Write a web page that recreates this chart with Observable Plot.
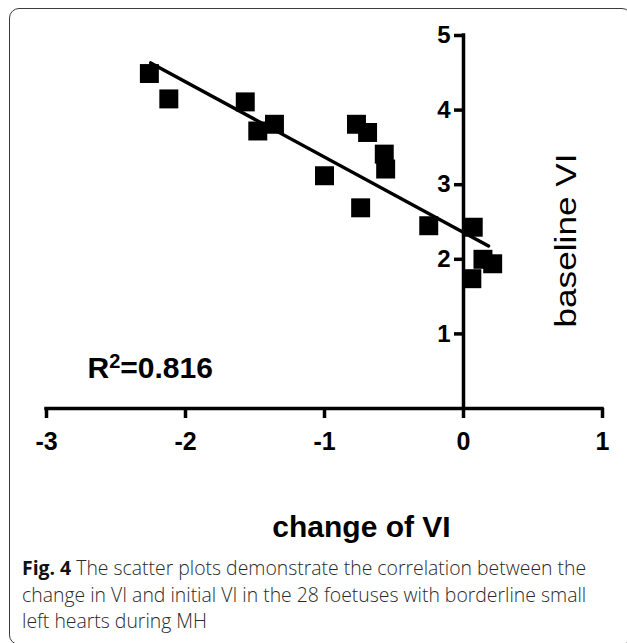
<!DOCTYPE html>
<html>
<head>
<meta charset="utf-8">
<script src="https://cdn.jsdelivr.net/npm/d3@7"></script>
<script src="https://cdn.jsdelivr.net/npm/@observablehq/plot@0.6"></script>
<style>
  html, body { margin: 0; padding: 0; background: #fff; overflow: hidden; width: 627px; height: 643px; }
  #wrap { position: relative; width: 627px; height: 643px; }
  #chart { position: absolute; left: 0; top: 0; }
  #frame { position: absolute; left: 9px; top: 8px; width: 623px; height: 637px; box-sizing: border-box;
           border: 1.5px solid #3a3a3a; border-radius: 10px; pointer-events: none; }
  #caption { position: absolute; left: 22px; top: 555px; font-family: "Open Sans", sans-serif; font-size: 19.4px;
             font-weight: 300; line-height: 26.5px; color: #2a2a2a; white-space: nowrap; }
  #caption b { color: #111; font-weight: 700; }
</style>
</head>
<body>
<div id="wrap">
  <div id="chart"></div>
  <div id="frame"></div>
  <div id="caption"><b>Fig. 4</b> The scatter plots demonstrate the correlation between the<br>change in VI and initial VI in the 28 foetuses with borderline small<br>left hearts during MH</div>
</div>
<script>
// Data
const changeVI   = [-2.26, -2.12, -1.57, -1.48, -1.36, -0.77, -0.69, -0.57, -0.56, -1.00, -0.74, -0.25, 0.07, 0.14, 0.21, 0.06];
const baselineVI = [ 4.49,  4.15,  4.11,  3.72,  3.81,  3.81,  3.70,  3.41,  3.21,  3.12,  2.69,  2.45, 2.43, 2.00, 1.94, 1.74];
const fitSlope = -1.01;
const fitIntercept = 2.36;
const fitXRange = [-2.25, 0.18];
const xTicks = [-3, -2, -1, 0, 1];
const yTicks = [1, 2, 3, 4, 5];
const rSquaredLabel = "R2=0.816";
const xLabel = "change of VI";
const yLabel = "baseline VI";

const points = changeVI.map((x, i) => ({x, y: baselineVI[i]}));
const fit = fitXRange.map(x => ({x, y: fitIntercept + fitSlope * x}));

const chart = Plot.plot({
  width: 627,
  height: 550,
  marginLeft: 46,
  marginRight: 25,
  marginTop: 35,
  marginBottom: 142,
  x: {domain: [-3, 1], axis: null},
  y: {domain: [0, 5], axis: null},
  style: {fontFamily: "'Liberation Sans', Arial, sans-serif", background: "transparent", overflow: "visible", color: "#000"},
  marks: [
    // axes
    Plot.ruleY([0], {x1: -3, x2: 1, stroke: "#000", strokeWidth: 3.5, strokeLinecap: "square"}),
    Plot.ruleX([0], {y1: 0, y2: 5, stroke: "#000", strokeWidth: 3.5, strokeLinecap: "square"}),
    Plot.ruleX(xTicks, {x: d => d, y1: 0, y2: 0, insetBottom: -10, stroke: "#000", strokeWidth: 3.5}),
    Plot.ruleY(yTicks, {y: d => d, x1: 0, x2: 0, insetLeft: -9, stroke: "#000", strokeWidth: 3.5}),
    Plot.text(xTicks, {x: d => d, y: 0, text: d => String(d), dy: 24, lineAnchor: "top", fontSize: 25, fontWeight: "bold", fill: "#000"}),
    Plot.text(yTicks, {y: d => d, x: 0, text: d => String(d), dx: -13, textAnchor: "end", fontSize: 24, fontWeight: "bold", fill: "#000"}),
    // data
    Plot.dot(points, {x: "x", y: "y", symbol: "square", r: 10.7, fill: "#000", stroke: "none"}),
    Plot.line(fit, {x: "x", y: "y", stroke: "#000", strokeWidth: 3.5}),
    // annotations
    Plot.text([rSquaredLabel], {frameAnchor: "bottom-left", dx: 41, dy: -31, textAnchor: "start", lineAnchor: "bottom", fontSize: 30, fontWeight: "bold", fill: "#000"}),
    Plot.text([xLabel], {frameAnchor: "bottom", dx: 37, dy: 128, lineAnchor: "bottom", fontSize: 30, fontWeight: "bold", fill: "#000"}),
    Plot.text([yLabel], {frameAnchor: "right", rotate: -90, dx: -27, dy: 105.5, textAnchor: "start", lineAnchor: "bottom", fontSize: 30, fill: "#000"})
  ]
});
document.getElementById("chart").appendChild(chart);

// superscript for R²
d3.select(chart).selectAll("text").filter(function() { return this.textContent === rSquaredLabel; })
  .each(function() {
    const t = d3.select(this);
    t.text(null);
    t.append("tspan").text("R");
    t.append("tspan").attr("font-size", 20).attr("dy", -10).text("2");
    t.append("tspan").attr("dy", 10).text("=0.816");
  });
// stretch rotated y label to reference length
d3.select(chart).selectAll("text").filter(function() { return this.textContent === yLabel; })
  .attr("textLength", 174).attr("lengthAdjust", "spacingAndGlyphs");
</script>
</body>
</html>
